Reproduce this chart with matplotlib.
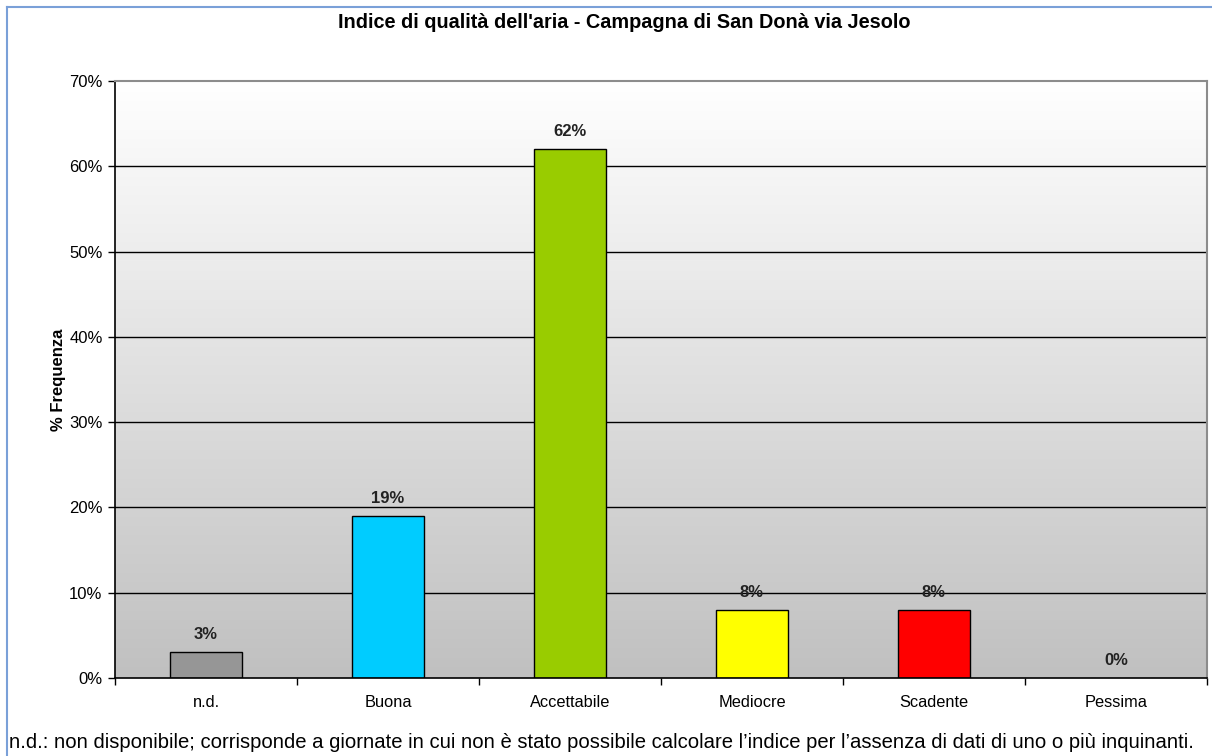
import numpy as np
import matplotlib.pyplot as plt
from matplotlib.lines import Line2D
from matplotlib.colors import LinearSegmentedColormap

plt.rcParams['font.family'] = ['Liberation Sans', 'DejaVu Sans']

categorie = ['n.d.', 'Buona', 'Accettabile', 'Mediocre', 'Scadente', 'Pessima']
frequenza = [3, 19, 62, 8, 8, 0]
colori = ['#969696', '#00ccff', '#99cc00', '#ffff00', '#ff0000', '#ffffff']
yticks = [0, 10, 20, 30, 40, 50, 60, 70]

W, H = 1212, 756
fig = plt.figure(figsize=(W / 100, H / 100), dpi=100)

# plot area in pixel coords
x0, x1, y0, y1 = 115, 1207, 81, 678
ax = fig.add_axes([x0 / W, 1 - y1 / H, (x1 - x0) / W, (y1 - y0) / H])

# background gradient: white at the top, grey at the bottom
grad = np.linspace(0, 1, 256).reshape(-1, 1)
ax.imshow(grad, cmap=LinearSegmentedColormap.from_list('bg', ['#ffffff', '#c0c0c0']),
          extent=[-0.5, len(categorie) - 0.5, 0, 70], aspect='auto', origin='upper', zorder=0)

for y in yticks[1:-1]:
    ax.axhline(y, color='black', lw=1.0, zorder=1)

x = np.arange(len(categorie))
bars = ax.bar(x, frequenza, width=0.4, color=colori, edgecolor='black', lw=1.0, zorder=2)
for b, v in zip(bars, frequenza):
    if v == 0:
        b.set_visible(False)
    ax.text(b.get_x() + b.get_width() / 2, v + 1.2, f'{v}%', ha='center', va='bottom',
            fontsize=12, fontweight='bold', color='#222222')

ax.set_xlim(-0.5, len(categorie) - 0.5)
ax.set_ylim(0, 70)
ax.set_yticks(yticks)
ax.set_yticklabels([f'{v}%' for v in yticks], fontsize=12)
ax.set_xticks(np.arange(len(categorie) + 1) - 0.5)
ax.set_xticklabels([])
ax.set_xticks(x, minor=True)
ax.set_xticklabels(categorie, minor=True, fontsize=11.8)
ax.tick_params(axis='x', which='minor', length=0, pad=12)
ax.tick_params(axis='x', which='major', length=5, width=1, direction='out')
ax.tick_params(axis='y', length=5, width=1, direction='out', pad=4)

ax.spines['left'].set_color('black')
ax.spines['bottom'].set_color('black')
ax.spines['left'].set_linewidth(1.2)
ax.spines['bottom'].set_linewidth(1.2)
ax.spines['top'].set_color('#8c8c8c')
ax.spines['right'].set_color('#8c8c8c')
ax.spines['top'].set_linewidth(1.5)
ax.spines['right'].set_linewidth(1.5)

ax.set_ylabel('% Frequenza', fontsize=12, fontweight='bold', labelpad=2)

fig.text(624 / W, 1 - 22 / H, "Indice di qualità dell'aria - Campagna di San Donà via Jesolo",
         ha='center', va='center', fontsize=14.3, fontweight='bold')

fig.text(9 / W, 1 - 743 / H,
         "n.d.: non disponibile; corrisponde a giornate in cui non è stato possibile calcolare "
         "l’indice per l’assenza di dati di uno o più inquinanti.",
         ha='left', va='center', fontsize=14.6)

# outer chart frame
fig.add_artist(Line2D([7 / W, 7 / W], [0, 1 - 7 / H], color='#7aa0d8', lw=1.5))
fig.add_artist(Line2D([7 / W, 1], [1 - 7 / H, 1 - 7 / H], color='#7aa0d8', lw=1.5))

fig.savefig('out.png', dpi=100)
